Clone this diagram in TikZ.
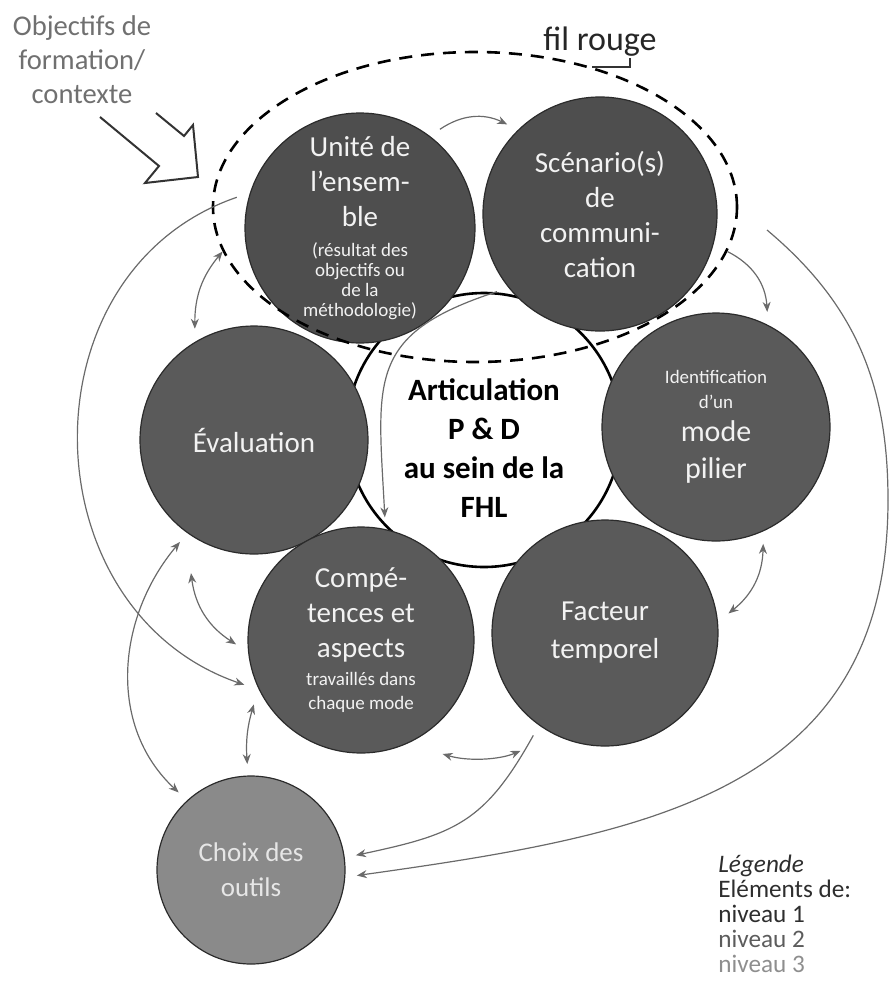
\documentclass[tikz,border=0pt]{standalone}
\usepackage{fontspec}
\setmainfont{Carlito}
\usepackage{tikz}
\usetikzlibrary{shapes.geometric,arrows.meta}

\definecolor{discdark}{HTML}{4E4E4E}
\definecolor{discmid}{HTML}{5A5A5A}
\definecolor{disclight}{HTML}{8A8A8A}
\definecolor{choixtext}{HTML}{E6E6E6}
\definecolor{linkgray}{HTML}{6A6A6A}
\definecolor{rimgray}{HTML}{2B2B2B}
\definecolor{objgray}{HTML}{707070}
\definecolor{levone}{HTML}{2E2E2E}
\definecolor{levtwo}{HTML}{5C5C5C}
\definecolor{levthree}{HTML}{8E8E8E}
\newcommand{\petit}{\fontsize{9.5}{10}\selectfont}
\newcommand{\legendfont}{\fontsize{12.6}{12.4}\selectfont\lineskiplimit=-20pt\relax}

\tikzset{
	disc/.style={circle, draw=rimgray, line width=0.6pt, fill=discmid, minimum size=#1, inner sep=0pt, outer sep=6pt, align=center, text=white!95!black, font=\fontsize{14.5}{17.5}\selectfont},
}

\begin{document}
\begin{tikzpicture}[x=0.5pt, y=-0.5pt]
\useasboundingbox (0,0) rectangle (893,986);

\begin{scope}
	\node[circle, draw=black, line width=1.3pt, fill=white, minimum size=137pt, inner sep=0pt] (hub) at (484,430) {};

	\node[disc=115pt, fill=discdark] (unite) at (360,228) {Unité de\\l’ensem-\\ble\\[-2.5pt]{\petit (résultat des}\\[-7.5pt]{\petit objectifs ou}\\[-7.5pt]{\petit de la}\\[-7.5pt]{\petit méthodologie)}};
	\node[disc=117pt, fill=discdark] (scen) at (600,214) {Scénario(s)\\de\\communi-\\cation};
	\node[disc=114pt] (eval) at (254,440) {Évaluation};
	\node[disc=114pt] (ident) at (716,427) {{\petit Identification}\\[-5pt]{\petit d’un}\\[-1pt]{\fontsize{15}{17.5}\selectfont mode}\\[1pt]{\fontsize{15}{17.5}\selectfont pilier}};
	\node[disc=113pt] (comp) at (361,640) {Compé-\\tences et\\aspects\\[-3.5pt]{\petit travaillés dans}\\[-5.5pt]{\petit chaque mode}};
	\node[disc=113pt] (fact) at (605,633) {Facteur\\[1.5pt]temporel};
	\node[disc=94pt, fill=disclight, text=choixtext, font=\fontsize{13.5}{17.5}\selectfont] (choix) at (251,870) {Choix des\\outils};

	\node[align=center, font=\fontsize{15.5}{19.5}\selectfont\bfseries] (hubtext) at (484,448) {Articulation\\P \& D\\au sein de la\\FHL};

	\node[ellipse, draw=black, line width=1.3pt, dash pattern=on 6.5pt off 4.5pt, minimum width=262pt, minimum height=155pt, inner sep=0pt] (fil) at (475,207) {};

	\node[anchor=base, inner sep=1pt, text=black!85, font=\fontsize{17}{20}\selectfont] (rougelbl) at (600,50) {fil rouge};
	\node[align=center, text=objgray, font=\fontsize{14.3}{17}\selectfont] (objectifs) at (82,60) {Objectifs de\\formation/\\contexte};
	\node[anchor=north west, align=left, inner sep=0pt, font=\legendfont] (legende) at (718,855) {\textcolor{levone}{\textit{Légende}}\\\textcolor{levone}{Eléments de:}\\\textcolor{levone}{niveau 1}\\\textcolor{levtwo}{niveau 2}\\\textcolor{levthree}{niveau 3}};

	\coordinate (rstart) at (767,230);
	\coordinate (rarc) at (888,500);
\end{scope}

% fleche d'entree
\draw[line width=1pt, black!80, line join=miter] (156,113) -- (184,136) -- (193,125) -- (198,177) -- (145,183) -- (159,166) -- (100,117);

\draw[line width=0.8pt, black!80] (fil.50) -| ([xshift=-14.5pt]rougelbl.south east);

\begin{scope}[>={Stealth[length=5pt,width=4pt]}, every edge/.style={draw=linkgray, line width=0.6pt}]

	\path [->] (unite.51) edge[bend left=30] (scen.136);
	\path [->] (fil.-10) edge[bend left=30] (ident.66);
	\path [<->] (fil.190) edge[bend right=20] (eval.118);
	\path [->] (scen.217) edge[out=198, in=93, looseness=1.4] (comp.79);
	\path [<->] (ident.-68) edge[bend left=25] (fact.9);

	\path [->] (unite.166) edge[out=199, in=161, looseness=1.2] (comp.201);
	\path [<->] (eval.234) edge[out=230, in=137] (choix.133);
	\path [<->] ([yshift=-12pt]eval.240) edge[bend right=25] (comp.182);
	\path [<->] (comp.211) edge[bend right=10] (choix.92);
	\path [<->] (comp.-60) edge[bend right=20, shorten <=10pt, shorten >=12pt] (fact.240);
	\path [->] (fact.235) edge[out=241, in=12, looseness=1.2] (choix.8);

	\path (rstart) edge[out=-40, in=90] (rarc);
	\path [->] (rarc) edge[out=-90, in=8, looseness=1.15] (choix.-3);

\end{scope}

\end{tikzpicture}
\end{document}
